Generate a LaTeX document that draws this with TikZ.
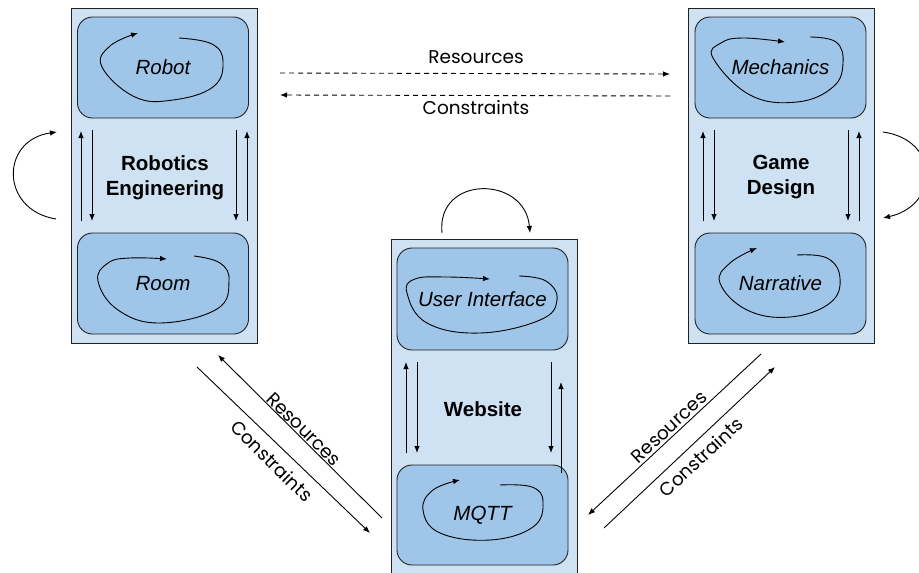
\documentclass[tikz,border=0pt]{standalone}
\usepackage{fontspec}
\setmainfont{Liberation Sans}
\newfontfamily\flowfont{Poppins}
\usetikzlibrary{arrows.meta}
\definecolor{outerblue}{HTML}{CFE2F3}
\definecolor{innerblue}{HTML}{9FC5E8}
\definecolor{edge}{HTML}{222222}
\begin{document}
\begin{tikzpicture}[x=1pt,y=-1pt,
  tip/.style={-{Latex[length=7pt,width=5.5pt]}},
  arr/.style={tip, line width=0.9pt, black},
  outerbox/.style={draw=edge, line width=0.9pt, fill=outerblue, minimum width=186pt},
  innerbox/.style={draw=edge, line width=0.9pt, fill=innerblue, rounded corners=15pt,
    minimum width=171pt, minimum height=101pt, font=\fontsize{20.5}{24}\selectfont\itshape},
  grouplabel/.style={align=center, font=\fontsize{20.5}{25}\selectfont\bfseries},
  flowlabel/.style={font=\flowfont\fontsize{18.5}{20}\selectfont, inner sep=0pt},
  loop/.style={arr, smooth, tension=0.7}
]
\useasboundingbox (0,0) rectangle (919,573);

% ---- group containers
\node[outerbox, minimum height=335pt] (robotics) at (164,175.5) {};
\node[outerbox, minimum height=341pt] (website) at (484,409.5) {};
\node[outerbox, minimum height=335pt] (game) at (781,175.5) {};

% ---- components
\node[innerbox] (robot) at (163,67.5) {Robot};
\node[innerbox] (room) at (163,283.5) {Room};
\node[innerbox, minimum height=102pt] (ui) at (482.5,299) {User Interface};
\node[innerbox, minimum height=100pt] (mqtt) at (482.5,515) {MQTT};
\node[innerbox] (mech) at (780.5,67.5) {Mechanics};
\node[innerbox] (narr) at (780.5,283.5) {Narrative};

% ---- group titles
\node[grouplabel] (roboticstitle) at (165,177.5) {Robotics\\Engineering};
\node[grouplabel] (gametitle) at (781,177.5) {Game\\Design};
\node[grouplabel] (webtitle) at (483,409) {Website};

% ---- internal iteration loops
\draw[loop] plot coordinates {(179,38) (212,44) (223,62) (213,87) (173,100) (135,97) (102,67) (110,46) (138,33)};
\draw[loop] plot coordinates {(194,256) (220,263) (229,281) (217,309) (160,323) (118,310) (98,281) (108,263) (130,258) (167,259)};
\draw[loop] plot coordinates {(519,276) (546,281) (557,300) (540,320) (480,333) (427,323) (407,293) (415,279) (447,277) (490,279)};
\draw[loop] plot coordinates {(500,485) (532,487) (543,502) (533,527) (490,540) (440,533) (423,510) (433,490) (460,480)};
\draw[loop] plot coordinates {(810,37) (836,42) (843,63) (833,87) (797,102) (750,95) (713,58) (721,43) (743,38) (785,42)};
\draw[loop] plot coordinates {(797,255) (827,258) (840,278) (830,303) (790,317) (747,310) (720,283) (730,263) (757,248)};

% ---- exchanges between components
\draw[arr] (81,221) -- (81,131);
\draw[arr] (92,130) -- (92,221);
\draw[arr] (236,130) -- (236,221);
\draw[arr] (247,221) -- (247,131);

\draw[arr] (703,221) -- (703,131);
\draw[arr] (714,130) -- (714,221);
\draw[arr] (848,130) -- (848,221);
\draw[arr] (859,221) -- (859,131);

\draw[arr] (406,453) -- (406,362);
\draw[arr] (417,362) -- (417,453);
\draw[arr] (551,362) -- (551,453);
\draw[arr] (561,473) -- (561,382);

% ---- group self loops
\draw[arr] (56,219) .. controls (0,210) and (0,140) .. (57,132);
\draw[arr] (442,233) .. controls (436,175) and (525,175) .. (530,233);
\draw[arr] (883,132) .. controls (940,140) and (940,205) .. (883,218);

% ---- resources / constraints between groups
\coordinate (rtop1) at (280,73);
\coordinate (rtop2) at (670,74);
\coordinate (ctop1) at (670,96);
\coordinate (ctop2) at (280,95);
\draw[arr, dash pattern=on 5pt off 4pt] (rtop1) -- (rtop2);
\draw[arr, dash pattern=on 5pt off 4pt] (ctop1) -- (ctop2);
\node[flowlabel] (restop) at (476,57) {Resources};
\node[flowlabel] (contop) at (476,108) {Constraints};

\coordinate (rl1) at (382,518);
\coordinate (rl2) at (218,355);
\coordinate (cl1) at (197,367);
\coordinate (cl2) at (370,533);
\draw[arr] (rl1) -- (rl2);
\draw[arr] (cl1) -- (cl2);
\node[flowlabel, rotate=-44.5] (resleft) at (304,429) {Resources};
\node[flowlabel, rotate=-44.5] (conleft) at (272,461) {Constraints};

\coordinate (rr1) at (761,354);
\coordinate (rr2) at (588,515);
\coordinate (cr1) at (604,528);
\coordinate (cr2) at (775,367);
\draw[arr] (rr1) -- (rr2);
\draw[arr] (cr1) -- (cr2);
\node[flowlabel, rotate=43] (resright) at (669,427) {Resources};
\node[flowlabel, rotate=43] (conright) at (701,457) {Constraints};
\end{tikzpicture}
\end{document}
